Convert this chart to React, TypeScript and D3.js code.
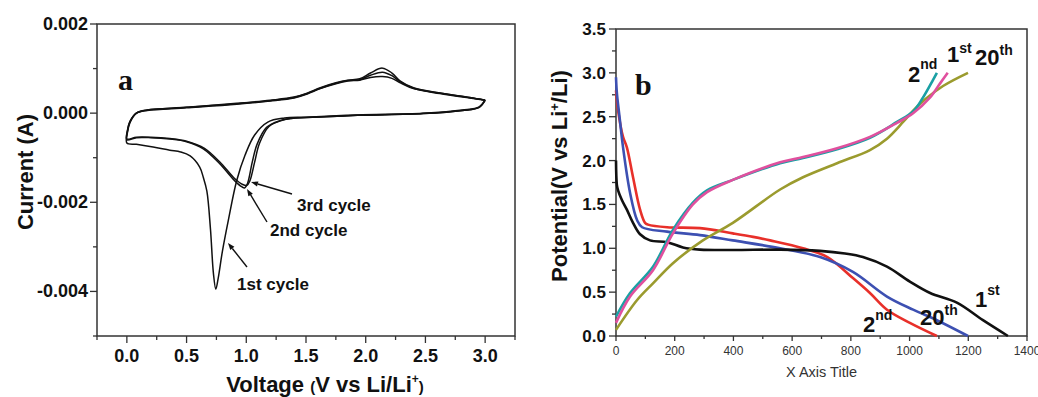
import React from 'react';
import * as d3 from 'd3';

// ---- panel a: cyclic voltammetry (V, A) ----
const cv1: [number, number][] = [
  [3.0, 0.00029], [2.95, 0.00014], [2.81, 0.00007], [2.48, 0.0], [1.93, -0.00004], [1.5, -0.00009],
  [1.32, -0.00011], [1.18, -0.0002], [1.07, -0.00049], [0.99, -0.00094], [0.92, -0.00151], [0.85, -0.0024],
  [0.8, -0.0031], [0.765, -0.0037], [0.745, -0.00395], [0.725, -0.0036], [0.7, -0.0026], [0.67, -0.00175],
  [0.64, -0.00144], [0.61, -0.00121], [0.53, -0.00096], [0.45, -0.00087], [0.36, -0.00083], [0.22, -0.00076],
  [0.08, -0.0007], [0.0, -0.00067], [0.004, -0.00045], [0.025, -0.00022], [0.08, 0.0], [0.17, 0.00007],
  [0.5, 0.00013], [0.92, 0.00022], [1.2, 0.00029], [1.4, 0.00036], [1.51, 0.00045], [1.62, 0.00057],
  [1.75, 0.00068], [1.85, 0.00074], [1.95, 0.00077], [2.04, 0.0009], [2.14, 0.00101], [2.22, 0.0009],
  [2.29, 0.00072], [2.4, 0.00057], [2.62, 0.00045], [2.87, 0.00035], [3.0, 0.00029],
];
const cv2: [number, number][] = [
  [3.0, 0.00029], [2.95, 0.00013], [2.81, 0.00006], [2.48, -0.00001], [1.93, -0.00005], [1.5, -0.0001],
  [1.37, -0.00012], [1.28, -0.00017], [1.17, -0.00032], [1.09, -0.0007], [1.05, -0.0011], [1.01, -0.00158],
  [0.985, -0.00168], [0.95, -0.00163], [0.89, -0.00148], [0.78, -0.00114], [0.64, -0.0008], [0.5, -0.00064],
  [0.36, -0.00058], [0.2, -0.00055], [0.08, -0.00055], [0.0, -0.0006], [0.004, -0.00042], [0.025, -0.0002],
  [0.08, 0.0], [0.17, 0.00007], [0.5, 0.00013], [0.92, 0.00021], [1.2, 0.00028], [1.4, 0.00035],
  [1.51, 0.00044], [1.62, 0.00056], [1.75, 0.00067], [1.85, 0.00073], [1.95, 0.00075], [2.04, 0.00085],
  [2.14, 0.00092], [2.22, 0.00084], [2.29, 0.0007], [2.4, 0.00056], [2.62, 0.00045], [2.87, 0.00035], [3.0, 0.00029],
];
const cv3: [number, number][] = [
  [3.0, 0.00029], [2.95, 0.00013], [2.81, 0.00006], [2.48, -0.00001], [1.93, -0.00005], [1.5, -0.0001],
  [1.38, -0.00012], [1.3, -0.00016], [1.19, -0.0003], [1.11, -0.00068], [1.07, -0.0011], [1.03, -0.00152],
  [1.005, -0.00162], [0.97, -0.0016], [0.9, -0.00146], [0.79, -0.00113], [0.65, -0.00079], [0.5, -0.00063],
  [0.36, -0.00057], [0.2, -0.00054], [0.08, -0.00054], [0.0, -0.00058], [0.004, -0.0004], [0.025, -0.00019],
  [0.08, 0.0], [0.17, 0.00006], [0.5, 0.00012], [0.92, 0.0002], [1.2, 0.00027], [1.4, 0.00034],
  [1.51, 0.00043], [1.62, 0.00055], [1.75, 0.00066], [1.85, 0.00072], [1.95, 0.00074], [2.04, 0.0008],
  [2.14, 0.00082], [2.22, 0.00078], [2.29, 0.00068], [2.4, 0.00055], [2.62, 0.00044], [2.87, 0.00034], [3.0, 0.00029],
];

const aXTicks = [0, 0.5, 1.0, 1.5, 2.0, 2.5, 3.0];
const aXTickLabels = ['0.0', '0.5', '1.0', '1.5', '2.0', '2.5', '3.0'];
const aYTicks = [-0.004, -0.002, 0, 0.002];
const aYTickLabels = ['-0.004', '-0.002', '0.000', '0.002'];

// ---- panel b: charge / discharge (capacity, V) ----
const dis1st: [number, number][] = [
  [0, 2.0], [3, 1.72], [7, 1.66], [20, 1.55], [37, 1.44], [58, 1.29], [82, 1.16], [116, 1.09], [174, 1.07],
  [228, 1.01], [286, 0.985], [398, 0.98], [560, 0.985], [695, 0.97], [780, 0.94], [841, 0.9], [923, 0.79],
  [1001, 0.62], [1070, 0.49], [1161, 0.38], [1250, 0.18], [1335, 0.0],
];
const dis2nd: [number, number][] = [
  [0, 2.8], [8, 2.55], [24, 2.27], [37, 2.15], [58, 1.81], [82, 1.44], [99, 1.29], [109, 1.27], [174, 1.24],
  [286, 1.23], [398, 1.17], [467, 1.13], [525, 1.09], [637, 1.0], [720, 0.9], [807, 0.66], [865, 0.49],
  [923, 0.3], [1001, 0.15], [1093, 0.0],
];
const dis20th: [number, number][] = [
  [0, 2.95], [3, 2.77], [12, 2.5], [24, 2.15], [48, 1.63], [72, 1.32], [89, 1.24], [174, 1.19], [286, 1.15],
  [398, 1.09], [559, 1.0], [695, 0.9], [807, 0.73], [923, 0.45], [1012, 0.3], [1093, 0.18], [1199, 0.0],
];
const chg1st: [number, number][] = [
  [0, 0.15], [48, 0.45], [126, 0.75], [194, 1.17], [262, 1.5], [310, 1.64], [398, 1.78], [559, 1.98],
  [637, 2.04], [753, 2.14], [865, 2.27], [957, 2.43], [1012, 2.54], [1070, 2.72], [1104, 2.88], [1130, 3.0],
];
const chg2nd: [number, number][] = [
  [0, 0.22], [48, 0.49], [126, 0.79], [194, 1.21], [262, 1.52], [310, 1.66], [398, 1.78], [559, 1.97],
  [637, 2.03], [753, 2.13], [865, 2.26], [957, 2.44], [1012, 2.56], [1046, 2.72], [1080, 2.92], [1093, 3.0],
];
const chg20th: [number, number][] = [
  [0, 0.07], [72, 0.41], [126, 0.6], [194, 0.83], [296, 1.09], [398, 1.29], [559, 1.67], [637, 1.81],
  [753, 1.97], [865, 2.12], [923, 2.25], [978, 2.44], [1010, 2.56], [1050, 2.69], [1114, 2.85], [1199, 3.0],
];

const bXTicks = [0, 200, 400, 600, 800, 1000, 1200, 1400];
const bYTicks = [0, 0.5, 1.0, 1.5, 2.0, 2.5, 3.0, 3.5];
const bYTickLabels = ['0.0', '0.5', '1.0', '1.5', '2.0', '2.5', '3.0', '3.5'];

const W = 1038;
const H = 397;
const SANS = 'Liberation Sans, Arial, sans-serif';
const SERIF = 'Liberation Serif, Times New Roman, serif';
const AXIS = '#333';

const aX = d3.scaleLinear().domain([-0.25, 3.25]).range([97, 515]);
const aY = d3.scaleLinear().domain([-0.005, 0.002]).range([336, 24]);
const bX = d3.scaleLinear().domain([0, 1400]).range([616, 1027]);
const bY = d3.scaleLinear().domain([0, 3.5]).range([336, 29]);

const lineOf = (sx: d3.ScaleLinear<number, number>, sy: d3.ScaleLinear<number, number>) =>
  d3.line<[number, number]>()
    .x(d => sx(d[0]))
    .y(d => sy(d[1]))
    .curve(d3.curveCatmullRom.alpha(0.5));

const Arrow = ({ x1, y1, x2, y2 }: { x1: number; y1: number; x2: number; y2: number }) => {
  const ang = Math.atan2(y2 - y1, x2 - x1);
  const L = 7, w = 2.6;
  const bx = x2 - L * Math.cos(ang), by = y2 - L * Math.sin(ang);
  const px = -Math.sin(ang) * w, py = Math.cos(ang) * w;
  return (
    <g>
      <line x1={x1} y1={y1} x2={bx} y2={by} stroke="#111" strokeWidth={1.4} />
      <path d={`M${x2},${y2}L${bx + px},${by + py}L${bx - px},${by - py}Z`} fill="#111" />
    </g>
  );
};

const Sup = ({ x, y, main, sup, dy = -11 }: { x: number; y: number; main: string; sup: string; dy?: number }) => (
  <text x={x} y={y} fontFamily={SANS} fontWeight="bold" fontSize={22} fill="#111">
    {main}
    <tspan dy={dy} fontSize={14}>{sup}</tspan>
  </text>
);

export default function App() {
  const la = lineOf(aX, aY);
  const lb = lineOf(bX, bY);

  const aXMinor = d3.range(-1, 14).map(i => i * 0.25);
  const aYMinor = d3.range(-5, 3).map(i => i * 0.001);
  const bXMinor = d3.range(0, 15).map(i => i * 100);
  const bYMinor = d3.range(0, 15).map(i => i * 0.25);

  const [ax0, ax1] = aX.range();
  const [ay0, ay1] = aY.range();
  const [bx0, bx1] = bX.range();
  const [by0, by1] = bY.range();

  return (
    <svg width={W} height={H} style={{ position: 'absolute', left: 0, top: 0, background: '#fff' }}>
      {/* ===== panel a ===== */}
      <rect x={ax0} y={ay1} width={ax1 - ax0} height={ay0 - ay1} fill="none" stroke={AXIS} strokeWidth={1.5} />
      {aXMinor.map((v, i) => (
        <line key={'axm' + i} x1={aX(v)} x2={aX(v)} y1={ay0} y2={ay0 + (i % 2 === 1 ? 7 : 4)} stroke={AXIS} strokeWidth={1.3} />
      ))}
      {aYMinor.map((v, i) => (
        <line key={'aym' + i} x1={ax0} x2={ax0 - (i % 2 === 1 ? 7 : 4)} y1={aY(v)} y2={aY(v)} stroke={AXIS} strokeWidth={1.3} />
      ))}
      {aXTicks.map((v, i) => (
        <text key={'axl' + i} x={aX(v)} y={362} textAnchor="middle" fontFamily={SANS} fontWeight="bold" fontSize={18} fill="#111">
          {aXTickLabels[i]}
        </text>
      ))}
      {aYTicks.map((v, i) => (
        <text key={'ayl' + i} x={88} y={aY(v) + 6} textAnchor="end" fontFamily={SANS} fontWeight="bold" fontSize={18} fill="#111">
          {aYTickLabels[i]}
        </text>
      ))}
      <text transform="translate(33,172) rotate(-90)" textAnchor="middle" fontFamily={SANS} fontWeight="bold" fontSize={22} fill="#111">
        Current (A)
      </text>
      <text x={325} y={392} textAnchor="middle" fontFamily={SANS} fontWeight="bold" fontSize={22} fill="#111">
        Voltage <tspan fontSize={15}>(</tspan>V vs Li/Li<tspan dy={-9} fontSize={12}>+</tspan><tspan dy={9} fontSize={15}>)</tspan>
      </text>
      <text x={118} y={90} fontFamily={SERIF} fontWeight="bold" fontSize={30} fill="#111">a</text>

      <path d={la(cv3) ?? ''} fill="none" stroke="#111" strokeWidth={1.5} />
      <path d={la(cv2) ?? ''} fill="none" stroke="#111" strokeWidth={1.5} />
      <path d={la(cv1) ?? ''} fill="none" stroke="#111" strokeWidth={1.5} />

      <Arrow x1={292} y1={194} x2={251} y2={182} />
      <Arrow x1={267} y1={222} x2={247} y2={189} />
      <Arrow x1={247} y1={267} x2={228} y2={243} />
      <text x={297} y={211} fontFamily={SANS} fontWeight="bold" fontSize={17} fill="#111">3rd cycle</text>
      <text x={270} y={236} fontFamily={SANS} fontWeight="bold" fontSize={17} fill="#111">2nd cycle</text>
      <text x={237} y={290} fontFamily={SANS} fontWeight="bold" fontSize={17} fill="#111">1st cycle</text>

      {/* ===== panel b ===== */}
      <rect x={bx0} y={by1} width={bx1 - bx0} height={by0 - by1} fill="none" stroke={AXIS} strokeWidth={1.5} />
      {bXMinor.map((v, i) => (
        <line key={'bxm' + i} x1={bX(v)} x2={bX(v)} y1={by0} y2={by0 + (i % 2 === 0 ? 5 : 3)} stroke={AXIS} strokeWidth={1.3} />
      ))}
      {bYMinor.map((v, i) => (
        <line key={'bym' + i} x1={bx0} x2={bx0 - (i % 2 === 0 ? 7 : 4)} y1={bY(v)} y2={bY(v)} stroke={AXIS} strokeWidth={1.3} />
      ))}
      {bXTicks.map((v, i) => (
        <text key={'bxl' + i} x={bX(v)} y={355} textAnchor="middle" fontFamily={SANS} fontSize={12} fill="#333">
          {String(v)}
        </text>
      ))}
      {bYTicks.map((v, i) => (
        <text key={'byl' + i} x={606} y={bY(v) + 6} textAnchor="end" fontFamily={SANS} fontWeight="bold" fontSize={17} fill="#111">
          {bYTickLabels[i]}
        </text>
      ))}
      <text x={(bx0 + bx1) / 2} y={377} textAnchor="middle" fontFamily={SANS} fontSize={14.5} fill="#333">X Axis Title</text>
      <text transform="translate(567,176) rotate(-90)" textAnchor="middle" fontFamily={SANS} fontWeight="bold" fontSize={22} fill="#111">
        Potential(V vs Li<tspan dy={-8} fontSize={13}>+</tspan><tspan dy={8}>/Li)</tspan>
      </text>
      <text x={635} y={95} fontFamily={SERIF} fontWeight="bold" fontSize={30} fill="#111">b</text>

      <path d={lb(dis2nd) ?? ''} fill="none" stroke="#e8302a" strokeWidth={2.6} />
      <path d={lb(dis20th) ?? ''} fill="none" stroke="#3d50b2" strokeWidth={2.6} />
      <path d={lb(dis1st) ?? ''} fill="none" stroke="#111" strokeWidth={2.6} />
      <path d={lb(chg20th) ?? ''} fill="none" stroke="#9b9b2e" strokeWidth={2.6} />
      <path d={lb(chg2nd) ?? ''} fill="none" stroke="#1aa0a4" strokeWidth={2.6} />
      <path d={lb(chg1st) ?? ''} fill="none" stroke="#e0509e" strokeWidth={2.6} />

      <Sup x={908} y={82} main="2" sup="nd" dy={-13} />
      <Sup x={947} y={62} main="1" sup="st" dy={-9} />
      <Sup x={975} y={65} main="20" sup="th" dy={-10} />
      <Sup x={863} y={332} main="2" sup="nd" dy={-12} />
      <Sup x={920} y={325} main="20" sup="th" dy={-10} />
      <Sup x={975} y={307} main="1" sup="st" dy={-12} />
    </svg>
  );
}
